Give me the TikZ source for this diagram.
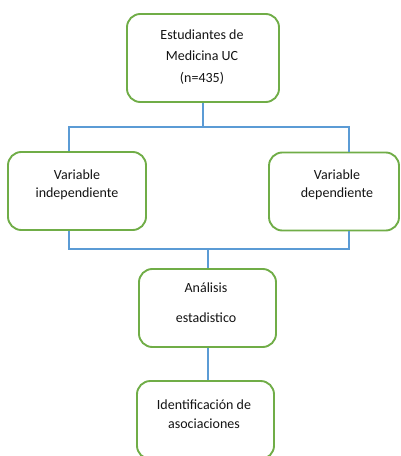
\documentclass[tikz,border=0pt]{standalone}
\usepackage{fontspec}
\setmainfont{Carlito}
\definecolor{boxgreen}{RGB}{112,173,71}
\definecolor{linkblue}{RGB}{91,155,213}
\definecolor{txt}{RGB}{20,20,20}
\begin{document}
\begin{tikzpicture}[x=0.75pt,y=-0.75pt,
  box/.style={draw=boxgreen, line width=1.4pt, rounded corners=10pt, fill=white, inner sep=0pt},
  lbl/.style={text=txt, align=center, inner sep=0pt},
  link/.style={draw=linkblue, line width=1.1pt}]
\useasboundingbox (0,0) rectangle (400,456);
\clip (0,0) rectangle (400,456);
% boxes
\node[box, minimum width=114pt, minimum height=66pt] (top) at (203,58) {};
\node[box, minimum width=103.5pt, minimum height=58.5pt] (left) at (77,191) {};
\node[box, minimum width=97.5pt, minimum height=58.5pt] (right) at (334,191.5) {};
\node[box, minimum width=102.75pt, minimum height=58.5pt] (ana) at (207.5,308) {};
\node[box, minimum width=102.75pt, minimum height=58.5pt] (ide) at (205.5,420) {};
% texts
\node[lbl, font=\fontsize{10.5}{16}\selectfont] (ttop) at (202,57) {Estudiantes de\\Medicina UC\\(n=435)};
\node[lbl, font=\fontsize{10.5}{13.5}\selectfont] (tleft) at (77,185) {Variable\\independiente};
\node[lbl, font=\fontsize{10.5}{13.5}\selectfont] (tright) at (337,185) {Variable\\dependiente};
\node[lbl, font=\fontsize{10.5}{22.5}\selectfont] (tana) at (206,303) {Análisis\\estadistico};
\node[lbl, font=\fontsize{10.5}{14.25}\selectfont] (tide) at (204,414) {Identificación de\\asociaciones};
% bus coordinates
\coordinate (b1) at (69,127);
\coordinate (b2) at (349,127);
\coordinate (c1) at (69,249);
\coordinate (c2) at (349,249);
\coordinate (cm) at (208,249);
% connectors
\draw[link] (top.south) -- (top.south |- b1);
\draw[link] (b1 |- left.north) -- (b1) -- (b2) -- (b2 |- right.north);
\draw[link] (c1 |- left.south) -- (c1) -- (c2) -- (c2 |- right.south);
\draw[link] (cm) -- (cm |- ana.north);
\draw[link] (cm |- ana.south) -- (cm |- ide.north);
\end{tikzpicture}
\end{document}
